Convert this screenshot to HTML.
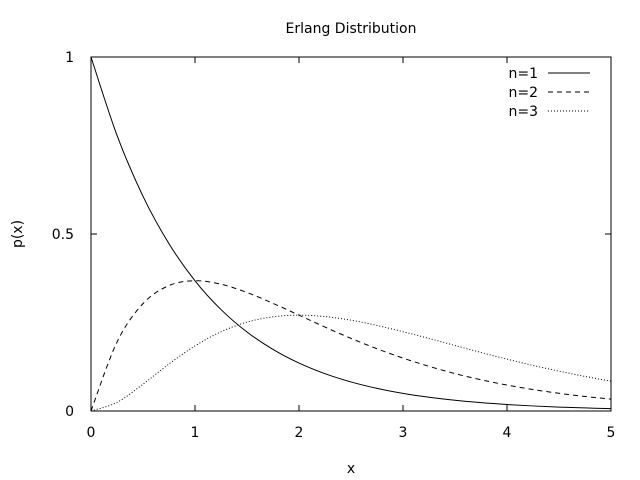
<!DOCTYPE html>
<html><head><meta charset="utf-8"><style>
body{margin:0;background:#fff}
svg{display:block;font-family:"DejaVu Sans","Liberation Sans",sans-serif;font-size:14px}
</style></head><body>
<svg id="chart" width="640" height="480">
<rect width="640" height="480" fill="#fff"/>
<text x="351" y="33" text-anchor="middle">Erlang Distribution</text>
<text x="351" y="473" text-anchor="middle">x</text>
<text transform="translate(22,234) rotate(-90)" text-anchor="middle">p(x)</text>
<g id="axes"></g>
<g id="series"></g>
<g id="legend"></g>
</svg>
<script>
const xs=[0,0.25,0.5,0.75,1,1.25,1.5,1.75,2,2.25,2.5,2.75,3,3.25,3.5,3.75,4,4.25,4.5,4.75,5];
const n1=[1,.7788,.6065,.4724,.3679,.2865,.2231,.1738,.1353,.1054,.0821,.0639,.0498,.0388,.0302,.0235,.0183,.0143,.0111,.0087,.0067];
const n2=[0,.1947,.3033,.3543,.3679,.3581,.3347,.3041,.2707,.2371,.2052,.1758,.1494,.1262,.1057,.0882,.0733,.0606,.0500,.0411,.0337];
const n3=[0,.0243,.0758,.1329,.1839,.2238,.2510,.2661,.2707,.2668,.2565,.2417,.2240,.2050,.1850,.1654,.1465,.1288,.1125,.0977,.0842];
const xTicks=[0,1,2,3,4,5];
const yTicks=[0,0.5,1];
const yTickLabels=["0","0.5","1"];
const seriesNames=["n=1","n=2","n=3"];
const L=91,R=611,T=57,B=411;
const sx=v=>L+(v-0)/(5-0)*(R-L);
const sy=v=>B-(v-0)/(1-0)*(B-T);
const NS="http://www.w3.org/2000/svg";
function mk(tag,attrs,parent){const e=document.createElementNS(NS,tag);for(const k in attrs)e.setAttribute(k,attrs[k]);parent.appendChild(e);return e;}
const axes=document.getElementById('axes');
const frame=mk('rect',{x:L,y:T,width:R-L,height:B-T,fill:'none',stroke:'#000','stroke-width':1},axes);


xTicks.forEach(v=>{
  const x=sx(v);
  const t=mk('path',{d:`M${x},${B}v-6M${x},${T}v6`,stroke:'#000'},axes);
  
  
  const l=mk('text',{x:x,y:B+26,'text-anchor':'middle'},axes);l.textContent=String(v);
  
  
});
yTicks.forEach((v,i)=>{
  const y=sy(v);
  const t=mk('path',{d:`M${L},${y}h6M${R},${y}h-6`,stroke:'#000'},axes);
  
  
  const l=mk('text',{x:L-17,y:y+5,'text-anchor':'end'},axes);l.textContent=yTickLabels[i];
  
  
});
function pathD(ys){
  const p=xs.map((x,i)=>[sx(x),sy(ys[i])]);
  let d=`M${p[0][0]},${p[0][1]}`;
  for(let i=0;i<p.length-1;i++){
    const p0=p[Math.max(0,i-1)],p1=p[i],p2=p[i+1],p3=p[Math.min(p.length-1,i+2)];
    const c1=[p1[0]+(p2[0]-p0[0])/6,p1[1]+(p2[1]-p0[1])/6];
    const c2=[p2[0]-(p3[0]-p1[0])/6,p2[1]-(p3[1]-p1[1])/6];
    d+=`C${c1[0]},${c1[1]} ${c2[0]},${c2[1]} ${p2[0]},${p2[1]}`;
  }
  return d;
}
const styles=[{},{'stroke-dasharray':'5,4'},{'stroke-dasharray':'1,2'}];
const sg=document.getElementById('series');
const lg=document.getElementById('legend');
[n1,n2,n3].forEach((ys,i)=>{
  const a=Object.assign({d:pathD(ys),fill:'none',stroke:'#000','stroke-width':1},styles[i]);
  const p=mk('path',a,sg);
  
  
  const y=73+i*19;
  const t=mk('text',{x:538,y:y+5,'text-anchor':'end'},lg);t.textContent=seriesNames[i];
  
  
  const ls=mk('path',Object.assign({d:`M548,${y}H590`,stroke:'#000','stroke-width':1},styles[i]),lg);
  
  
});
</script>
</body></html>
